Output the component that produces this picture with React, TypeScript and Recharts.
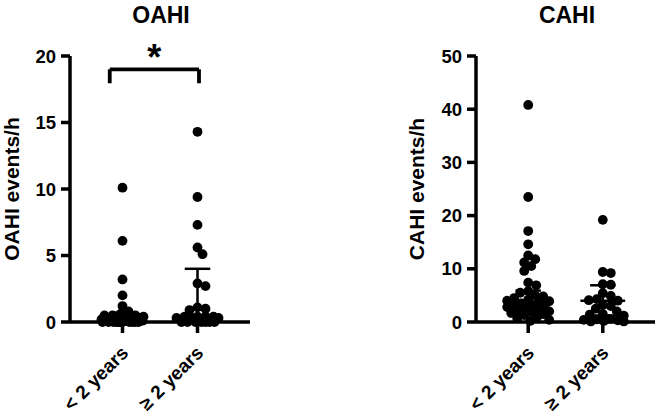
import React from 'react';
import { ScatterChart, Scatter, XAxis, YAxis, ReferenceLine } from 'recharts';

const categories = ['< 2 years', '≥ 2 years'];

const oahiYoung = [10.1, 6.1, 3.2, 2.0, 1.2, 0.8, 0.6, 0.5, 0.5, 0.5, 0.4, 0.4, 0.4, 0.3, 0.3, 0.3, 0.3, 0.2, 0.2, 0.2, 0.2, 0.1, 0.1, 0.1, 0.1, 0.1, 0, 0, 0, 0, 0, 0, 0, 0, 0, 0, 0];
const oahiOld = [14.3, 9.4, 7.3, 5.6, 5.1, 2.9, 2.7, 1.1, 1.0, 0.9, 0.4, 0.4, 0.4, 0.4, 0.3, 0.3, 0.3, 0, 0, 0, 0, 0, 0, 0];
const cahiYoung = [40.8, 23.5, 17.1, 14.6, 12.5, 11.8, 11.2, 10.5, 9.6, 7.4, 6.9, 5.8, 5.5, 5.0, 4.8, 4.5, 4.2, 4.0, 3.9, 3.7, 3.5, 3.3, 3.1, 3.0, 2.8, 2.6, 2.4, 2.2, 2.0, 1.9, 1.7, 1.5, 1.3, 1.0, 0.7, 0.4, 0.2];
const cahiOld = [19.2, 9.4, 9.2, 7.1, 7.0, 5.4, 4.9, 4.3, 4.1, 4.0, 3.2, 3.0, 2.5, 2.0, 1.5, 1.4, 1.2, 0.6, 0.5, 0.4, 0.3, 0.2, 0.1, 0.1];

const oahiTicks = [0, 5, 10, 15, 20];
const cahiTicks = [0, 10, 20, 30, 40, 50];

// line + whiskers per group
const oahiCenter = [0.3, 0.4];
const oahiUpper = [0.7, 4.0];
const oahiLower = [0.1, 0.1];
const cahiCenter = [3.8, 4.0];
const cahiUpper = [5.9, 6.9];
const cahiLower = [2.1, 1.2];

const FONT = "Arial, 'Liberation Sans', Helvetica, sans-serif";
const DOT_R = 4.9;
const X_DOMAIN: [number, number] = [0.3, 2.7];
const PLOT_H = 266;

// simple beeswarm: offsets dots sideways so they don't pile up
function swarm(values: number[], group: number, pxX: number, pxY: number) {
  const minD = DOT_R * 1.6;
  const maxOff = 21;
  const cands: number[] = [0];
  for (let i = 1; i <= maxOff; i++) cands.push(i, -i);
  const placed: { ox: number; py: number; v: number }[] = [];
  [...values].sort((a, b) => b - a).forEach((v) => {
    const py = v * pxY;
    let best = 0;
    let bestD = -1;
    for (const c of cands) {
      let d = Infinity;
      for (const p of placed) d = Math.min(d, Math.hypot(p.ox - c, p.py - py));
      if (d >= minD) { best = c; bestD = d; break; }
      if (d > bestD) { bestD = d; best = c; }
    }
    placed.push({ ox: best, py, v });
  });
  return placed.map((p) => ({ x: group + p.ox / pxX, y: p.v }));
}

const Dot = (props: any) => <circle cx={props.cx} cy={props.cy} r={DOT_R} fill="#000" />;

const CatTick = (props: any) => {
  const { x, y, payload } = props;
  return (
    <g transform={`translate(${x + 7},${y + 21})`}>
      <text x={0} y={0} textAnchor="end" transform="rotate(-45)" fontSize={19} fontWeight="bold" fontFamily={FONT} fill="#000">
        {categories[payload.value - 1]}
      </text>
    </g>
  );
};

type PanelProps = {
  left: number;
  width: number;
  marginLeft: number;
  marginRight: number;
  title: string;
  titleX: number;
  yLabel: string;
  yLabelX: number;
  groups: number[][];
  ticks: number[];
  center: number[];
  upper: number[];
  lower: number[];
  sigY?: number;
};

const Panel: React.FC<PanelProps> = (p) => {
  const yMax = p.ticks[p.ticks.length - 1];
  const plotW = p.width - p.marginLeft - 60 - p.marginRight;
  const pxX = plotW / (X_DOMAIN[1] - X_DOMAIN[0]);
  const pxY = PLOT_H / yMax;
  const line = { stroke: '#000', strokeWidth: 2.5 };
  const br = { stroke: '#000', strokeWidth: 3.8 };
  const axis = { stroke: '#000', strokeWidth: 3.5 };
  return (
    <>
      <div style={{ position: 'absolute', left: p.left + p.titleX, top: 15, transform: 'translate(-50%,-50%)', fontSize: 23, fontWeight: 'bold', whiteSpace: 'nowrap' }}>
        {p.title}
      </div>
      <div style={{ position: 'absolute', left: p.left + p.yLabelX, top: 189, transform: 'translate(-50%,-50%) rotate(-90deg)', fontSize: 21, fontWeight: 'bold', whiteSpace: 'nowrap' }}>
        {p.yLabel}
      </div>
      <div style={{ position: 'absolute', left: p.left, top: 0 }}>
        <ScatterChart width={p.width} height={416} margin={{ top: 56, right: p.marginRight, bottom: 0, left: p.marginLeft }}>
          <XAxis
            type="number"
            dataKey="x"
            domain={X_DOMAIN}
            ticks={[1, 2]}
            height={94}
            tickSize={11}
            tickMargin={0}
            axisLine={axis}
            tickLine={axis}
            tick={<CatTick />}
            interval={0}
          />
          <YAxis
            type="number"
            dataKey="y"
            domain={[0, yMax]}
            ticks={p.ticks}
            width={60}
            tickSize={9}
            tickMargin={5}
            axisLine={axis}
            tickLine={axis}
            tick={{ fontSize: 18.5, fontWeight: 'bold', fill: '#000', fontFamily: FONT }}
            interval={0}
          />
          {p.groups.map((vals, i) => (
            <Scatter key={`g${i}`} data={swarm(vals, i + 1, pxX, pxY)} shape={<Dot />} isAnimationActive={false} />
          ))}
          {p.groups.map((_, i) => {
            const g = i + 1;
            return (
              <React.Fragment key={`s${i}`}>
                <ReferenceLine segment={[{ x: g - 0.3, y: p.center[i] }, { x: g + 0.3, y: p.center[i] }]} {...line} />
                <ReferenceLine segment={[{ x: g, y: p.lower[i] }, { x: g, y: p.upper[i] }]} {...line} />
                <ReferenceLine segment={[{ x: g - 0.17, y: p.upper[i] }, { x: g + 0.17, y: p.upper[i] }]} {...line} />
                <ReferenceLine segment={[{ x: g - 0.17, y: p.lower[i] }, { x: g + 0.17, y: p.lower[i] }]} {...line} />
              </React.Fragment>
            );
          })}
          {p.sigY !== undefined && (
            <>
              <ReferenceLine
                segment={[{ x: 0.83, y: p.sigY }, { x: 2.02, y: p.sigY }]}
                {...br}
                label={{ value: '*', position: 'top', fontSize: 36, fontWeight: 'bold', fill: '#000', fontFamily: FONT, offset: -1 }}
              />
              <ReferenceLine segment={[{ x: 0.83, y: p.sigY }, { x: 0.83, y: p.sigY - 1.05 }]} {...br} />
              <ReferenceLine segment={[{ x: 2.02, y: p.sigY }, { x: 2.02, y: p.sigY - 1.05 }]} {...br} />
            </>
          )}
        </ScatterChart>
      </div>
    </>
  );
};

export default function App() {
  return (
    <div style={{ position: 'absolute', left: 0, top: 0, width: 661, height: 416, background: '#fff', fontFamily: FONT, color: '#000', overflow: 'hidden' }}>
      <Panel
        left={0}
        width={330}
        marginLeft={10}
        marginRight={80}
        title="OAHI"
        titleX={161}
        yLabel="OAHI events/h"
        yLabelX={12}
        groups={[oahiYoung, oahiOld]}
        ticks={oahiTicks}
        center={oahiCenter}
        upper={oahiUpper}
        lower={oahiLower}
        sigY={19}
      />
      <Panel
        left={330}
        width={331}
        marginLeft={86}
        marginRight={6}
        title="CAHI"
        titleX={237}
        yLabel="CAHI events/h"
        yLabelX={87}
        groups={[cahiYoung, cahiOld]}
        ticks={cahiTicks}
        center={cahiCenter}
        upper={cahiUpper}
        lower={cahiLower}
      />
    </div>
  );
}
